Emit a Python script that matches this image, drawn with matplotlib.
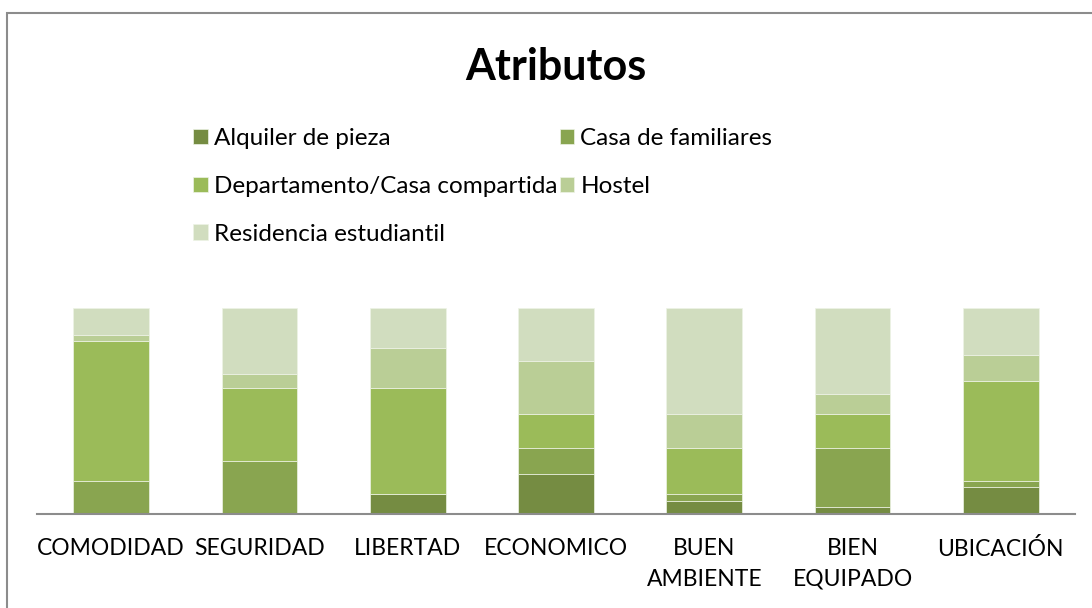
import numpy as np
import matplotlib
matplotlib.use("Agg")
import matplotlib.pyplot as plt
from matplotlib.patches import Rectangle

# counts per attribute (31 respondents each), shown as 100% stacked bars
categories = ["COMODIDAD", "SEGURIDAD", "LIBERTAD", "ECONOMICO",
              "BUEN\nAMBIENTE", "BIEN\nEQUIPADO", "UBICACIÓN"]
series_names = ["Alquiler de pieza", "Casa de familiares",
                "Departamento/Casa compartida", "Hostel",
                "Residencia estudiantil"]
alquiler = [0, 0, 3, 6, 2, 1, 4]
casa_familiares = [5, 8, 0, 4, 1, 9, 1]
departamento = [21, 11, 16, 5, 7, 5, 15]
hostel = [1, 2, 6, 8, 5, 3, 4]
residencia = [4, 10, 6, 8, 16, 13, 7]

colors = ["#758C42", "#89A550", "#9BBB59", "#BACE96", "#D1DDBF"]

plt.rcParams["font.family"] = ["Lato", "DejaVu Sans"]

data = np.array([alquiler, casa_familiares, departamento, hostel, residencia],
                dtype=float)
share = data / data.sum(axis=0)

fig = plt.figure(figsize=(10.92, 6.08), dpi=100)
ax = fig.add_axes([37 / 1092, 94 / 608, 1038 / 1092, 206 / 608])

x = np.arange(len(categories))
bottom = np.zeros(len(categories))
handles = []
for name, vals, col in zip(series_names, share, colors):
    h = ax.bar(x, vals, 0.51, bottom=bottom, color=col, edgecolor="#EEF3E6",
               linewidth=0.5, label=name)
    handles.append(h)
    bottom += vals

ax.set_xlim(-0.5, len(categories) - 0.5)
ax.set_ylim(0, 1)
ax.set_yticks([])
ax.set_xticks(x)
ax.set_xticklabels(categories, fontsize=16.5, linespacing=1.6)
ax.tick_params(axis="x", length=0, pad=17)
for s in ["top", "right", "left"]:
    ax.spines[s].set_visible(False)
ax.spines["bottom"].set_color("#8C8C8C")
ax.spines["bottom"].set_linewidth(1.5)

fig.text(556 / 1092, 1 - 67 / 608, "Atributos", fontsize=31, fontweight="bold",
         ha="center", va="center")

# legend filled column-wise: reorder so it reads row by row
order = [0, 2, 4, 1, 3]
fig.legend([handles[i] for i in order], [series_names[i] for i in order],
           ncol=2, frameon=False, fontsize=17.5, loc="upper left",
           bbox_to_anchor=(181 / 1092, 1 - 116 / 608),
           handlelength=0.6, handleheight=0.6, handletextpad=0.25,
           columnspacing=0.1, labelspacing=1.1, borderpad=0)

# chart area border (right/bottom edges fall outside the image)
fig.patches.append(Rectangle((7 / 1092, -0.1), 1.2, 1 - 13 / 608 + 0.1,
                             transform=fig.transFigure, fill=False,
                             edgecolor="#8C8C8C", linewidth=1.5))

fig.savefig("out.png", dpi=100)
